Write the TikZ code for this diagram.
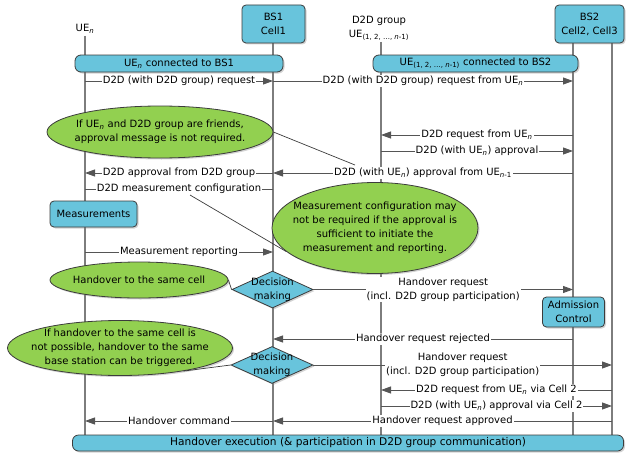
\documentclass[tikz,border=0pt]{standalone}
\usepackage{fontspec}
\setmainfont{DejaVu Sans}
\usetikzlibrary{shapes.geometric,arrows.meta,shadows}
\definecolor{boxblue}{RGB}{104,196,220}
\definecolor{elgreen}{RGB}{146,208,80}
\definecolor{edgecol}{RGB}{60,60,60}
\definecolor{lifegray}{RGB}{125,125,125}
\definecolor{msggray}{RGB}{85,85,85}
\newcommand\ueN{UE\textsubscript{\textit{n}}}
\newcommand\ueG{UE\textsubscript{(1, 2, …, \textit{n}-1)}}
\newcommand\ueNm{UE\textsubscript{\textit{n}-1}}
\begin{document}
\begin{tikzpicture}[x=1pt,y=-1pt,
  font=\fontsize{10}{14}\selectfont,
  shd/.style={drop shadow={opacity=0.35,shadow xshift=1.5pt,shadow yshift=-1.5pt}},
  bluebox/.style={draw=edgecol, line width=0.8pt, fill=boxblue, rounded corners=4pt, shd, inner sep=0pt, align=center},
  greenell/.style={ellipse, draw=edgecol, line width=0.8pt, fill=elgreen, shd, inner sep=0pt},
  decis/.style={diamond, draw=edgecol, line width=0.8pt, fill=boxblue, shd, inner sep=0pt},
  lifeline/.style={draw=lifegray, line width=1.2pt},
  msg/.style={draw=msggray, line width=0.9pt, -{Triangle[length=10pt,width=7pt]}},
  plainmsg/.style={draw=msggray, line width=0.9pt},
  note/.style={draw=edgecol, line width=0.7pt},
  lbl/.style={fill=white, inner sep=1pt, align=center},
  txt/.style={inner sep=0pt, align=center},
]
\useasboundingbox (0,0) rectangle (628,460);

% lifeline anchors
\coordinate (LU) at (85,36);
\coordinate (LB1) at (273,43);
\coordinate (LG) at (381,42);
\coordinate (LB2) at (573,43);
\coordinate (LC3) at (612,43);
\coordinate (bot) at (0,435);

\draw[lifeline] (LU) -- (LU |- bot);
\draw[lifeline] (LB1) -- (LB1 |- bot);
\draw[lifeline] (LG) -- (LG |- bot);
\draw[lifeline] (LB2) -- (LB2 |- bot);
\draw[lifeline] (LC3) -- (LC3 |- bot);

% headers
\node[txt] (ueN) at (85,29) {\ueN};
\node[txt] (grp) at (379,28) {D2D group\\\ueG};
\node[bluebox, minimum width=63pt, minimum height=38pt] (bs1) at (273.5,24) {BS1\\Cell1};
\node[bluebox, minimum width=69pt, minimum height=38pt] (bs2) at (589.5,24) {BS2\\Cell2, Cell3};

% bars
\node[bluebox, minimum width=208pt, minimum height=17pt, rounded corners=6pt] (bar1) at (179,63.5) {\ueN{} connected to BS1};
\node[bluebox, minimum width=205pt, minimum height=17pt, rounded corners=6pt] (bar2) at (475.5,63.5) {\ueG{} connected to BS2};
\node[bluebox, minimum width=551pt, minimum height=16pt, rounded corners=6pt, font=\fontsize{10.6}{14}\selectfont] (exec) at (348,443) {Handover execution (\& participation in D2D group communication)};

% boxes
\node[bluebox, minimum width=87pt, minimum height=26pt] (meas) at (93.5,214) {Measurements};
\node[bluebox, minimum width=62pt, minimum height=30pt] (adm) at (573.5,312) {Admission\\Control};

% decisions
\node[decis, minimum width=81pt, minimum height=37pt] (d1) at (272.5,289.5) {};
\node[txt] at (d1) {Decision\\making};
\node[decis, minimum width=82pt, minimum height=37pt] (d2) at (272,365) {};
\node[txt] at (d2) {Decision\\making};

% messages
\draw[msg] (LU |- 0,81) -- node[lbl]{D2D (with D2D group) request} (LB1 |- 0,81);
\draw[msg] (LB1 |- 0,81) -- node[lbl]{D2D (with D2D group) request from \ueN} (LB2 |- 0,81);
\draw[msg] (LB2 |- 0,135) -- node[lbl]{D2D request from \ueN} (LG |- 0,135);
\draw[msg] (LG |- 0,151) -- node[lbl]{D2D (with \ueN) approval} (LB2 |- 0,151);
\draw[msg] (LB2 |- 0,173) -- node[lbl](apl){D2D (with \ueN) approval from \ueNm} (LB1 |- 0,173);
\draw[msg] (LB1 |- 0,173) -- node[lbl]{D2D approval from D2D group} (LU |- 0,173);
\draw[plainmsg] (LB1 |- 0,189) -- node[lbl](mcf){D2D measurement configuration} (LU |- 0,189);
\draw[msg] (LU |- 0,252) -- node[lbl]{Measurement reporting} (LB1 |- 0,252);
\draw[msg] (d1.east) -- node[lbl]{Handover request\\(incl. D2D group participation)} (LB2 |- d1.east);
\draw[msg] (LB2 |- 0,339) -- node[lbl]{Handover request rejected} (LB1 |- 0,339);
\draw[msg] (d2.east) -- node[lbl]{Handover request\\(incl. D2D group participation)} (LC3 |- d2.east);
\draw[msg] (LC3 |- 0,390) -- node[lbl]{D2D request from \ueN{} via Cell 2} (LG |- 0,390);
\draw[msg] (LG |- 0,406) -- node[lbl]{D2D (with \ueN) approval via Cell 2} (LC3 |- 0,406);
\draw[msg] (LC3 |- 0,421) -- node[lbl]{Handover request approved} (LB1 |- 0,421);
\draw[msg] (LB1 |- 0,421) -- node[lbl]{Handover command} (LU |- 0,421);

% notes
\node[greenell, minimum width=226pt, minimum height=52pt] (e1) at (160,132) {};
\node[greenell, minimum width=206pt, minimum height=91pt] (e2) at (375,228) {};
\node[greenell, minimum width=178pt, minimum height=36pt] (e3) at (139,280) {};
\node[greenell, minimum width=225pt, minimum height=55pt] (e4) at (120,348) {};

\coordinate (n1) at (355,165);
\coordinate (n2) at (190,195);
\draw[note] (e1.east) -- (n1);
\draw[note] (n2) -- (e2.195);
\draw[note] (e3.east) -- (d1.west);
\draw[note] (e4.-20) -- (d2.west);

\node[txt] at (e1) {If \ueN{} and D2D group are friends,\\approval message is not required.};
\node[txt] at (e2) {Measurement configuration may\\not be required if the approval is\\sufficient to initiate the\\measurement and reporting.};
\node[txt] at (e3) {Handover to the same cell};
\node[txt] at (e4) {If handover to the same cell is\\not possible, handover to the same\\base station can be triggered.};
\end{tikzpicture}
\end{document}
